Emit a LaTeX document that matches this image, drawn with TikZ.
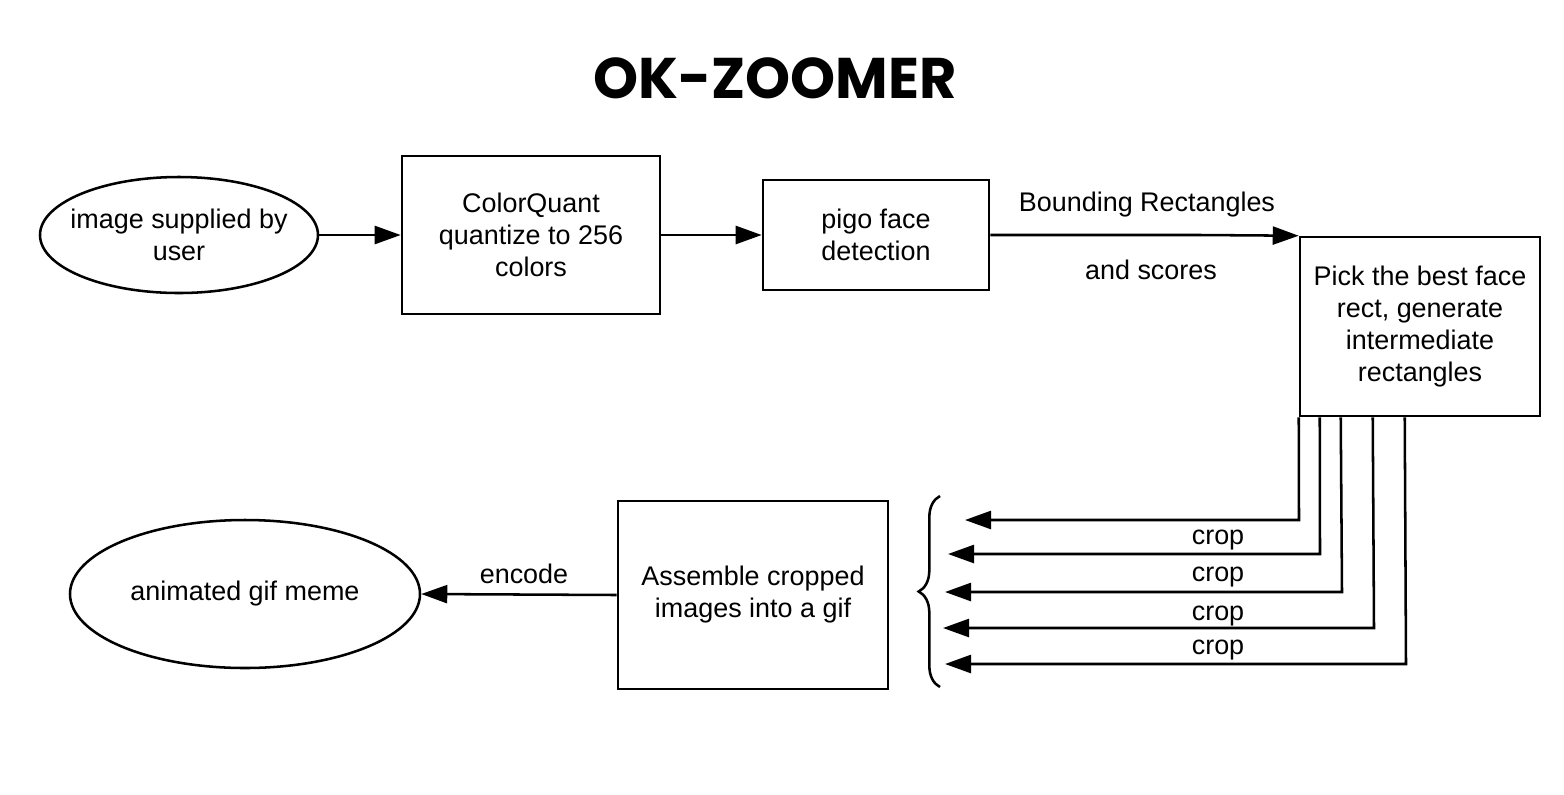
\documentclass[tikz,border=0pt]{standalone}
\usepackage{fontspec}
\setmainfont{Liberation Sans}
\newfontfamily\titlefont{Poppins}
\usetikzlibrary{arrows.meta,shapes.geometric,decorations.pathreplacing}
\begin{document}
\begin{tikzpicture}[x=0.75pt,y=-0.75pt,
  every node/.style={font=\fontsize{20.2}{24}\selectfont, align=center, inner sep=0pt},
  oval/.style={draw, ellipse, line width=1.9pt, inner xsep=-8pt},
  rbox/.style={draw, line width=1.9pt},
  conn/.style={line width=1.9pt, -{Triangle[length=19.5pt,width=13.5pt]}},
  lbl/.style={font=\fontsize{20.2}{24}\selectfont}]
\useasboundingbox (0,0) rectangle (1564,794);
\node[font=\titlefont\bfseries\fontsize{43}{50}\selectfont] (title) at (775,78) {OK-ZOOMER};
% nodes
\node[oval, minimum width=278*0.75pt, minimum height=116*0.75pt] (img) at (179,235) {image supplied by\\user};
\node[rbox, minimum width=258*0.75pt, minimum height=158*0.75pt] (cq) at (531,235) {ColorQuant\\quantize to 256\\colors};
\node[rbox, minimum width=226*0.75pt, minimum height=110*0.75pt] (pigo) at (876,235) {pigo face\\detection};
\node[rbox, minimum width=240*0.75pt, minimum height=179*0.75pt] (pick) at (1420,326.5) {Pick the best face\\rect, generate\\intermediate\\rectangles};
\node[rbox, minimum width=270*0.75pt, minimum height=188*0.75pt] (asm) at (753,595) {Assemble cropped\\images into a gif};
\node[oval, minimum width=350*0.75pt, minimum height=148*0.75pt] (gif) at (245,594) {animated gif meme};
% top connectors
\draw[conn] (img.east) -- (cq.west);
\draw[conn] (cq.east) -- (pigo.west);
\draw[conn] (pigo.east) -- (1200,235) -- (pick.north west);
\node[lbl] (br) at (1147,205) {Bounding Rectangles};
\node[lbl] (sc) at (1151,270) {and scores};
% crop connectors
\coordinate (t1) at (965,520);
\coordinate (t2) at (948,554);
\coordinate (t3) at (945,592);
\coordinate (t4) at (943,628);
\coordinate (t5) at (945,664);
\draw[conn] (pick.south west) -- (1299,520) -- (t1);
\draw[conn] ([xshift=21*0.75pt]pick.south west) -- (1320,554) -- (t2);
\draw[conn] ([xshift=42*0.75pt]pick.south west) -- (1342,592) -- (t3);
\draw[conn] ([xshift=74*0.75pt]pick.south west) -- (1374,628) -- (t4);
\draw[conn] ([xshift=106*0.75pt]pick.south west) -- (1406,664) -- (t5);
\node[lbl] (c1) at (1218,540) {crop};
\node[lbl] (c2) at (1218,577) {crop};
\node[lbl] (c3) at (1218,616) {crop};
\node[lbl] (c4) at (1218,650) {crop};
% brace
\draw[line width=1.9pt, decorate, decoration={brace, amplitude=16pt, aspect=0.5}] (940,687) -- (940,496);
% encode
\draw[conn] (asm.west) -- (gif.east);
\node[lbl] (enc) at (524,574) {encode};
\end{tikzpicture}
\end{document}
